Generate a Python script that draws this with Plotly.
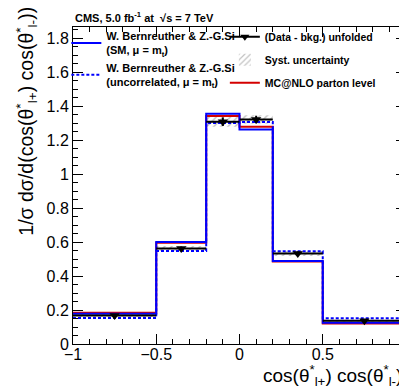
import plotly.graph_objects as go

# bin edges and centres of cos(theta*_l+) cos(theta*_l-)
edges = [-1.0, -0.5, -0.2, 0.0, 0.2, 0.5, 1.0]
centers = [-0.75, -0.35, -0.1, 0.1, 0.35, 0.75]
half_widths = [0.25, 0.15, 0.1, 0.1, 0.15, 0.25]

# normalised distributions
data_vals = [0.168, 0.562, 1.308, 1.321, 0.533, 0.137]
data_stat = [0.006, 0.012, 0.025, 0.022, 0.012, 0.006]
data_syst = [0.008, 0.015, 0.03, 0.025, 0.015, 0.006]
mcnlo = [0.184, 0.596, 1.341, 1.278, 0.486, 0.121]
wb_sm = [0.178, 0.600, 1.355, 1.262, 0.488, 0.125]
wb_uncorr = [0.153, 0.547, 1.300, 1.306, 0.545, 0.151]

FONT = "Liberation Sans, Arial, sans-serif"
BLUE = "#0000ff"
RED = "#d40000"


def steps(vals):
    return vals + [vals[-1]]


fig = go.Figure()

# systematic band (hatched)
fig.add_trace(go.Bar(
    x=centers,
    y=[2 * s for s in data_syst],
    base=[v - s for v, s in zip(data_vals, data_syst)],
    width=[2 * w for w in half_widths],
    marker=dict(color="rgba(0,0,0,0)", line_width=0,
                pattern=dict(shape="/", fgcolor="#888888", bgcolor="rgba(0,0,0,0)",
                             size=5, solidity=0.3)),
    name="Syst. uncertainty", legend="legend2", legendrank=2, legendgroup="syst",
))

fig.add_trace(go.Scatter(
    x=edges, y=steps(mcnlo), mode="lines", line=dict(color=RED, width=2, shape="hv"),
    name="MC@NLO parton level", legend="legend2", legendrank=3, legendgroup="mc",
))
fig.add_trace(go.Scatter(
    x=edges, y=steps(wb_sm), mode="lines", line=dict(color=BLUE, width=2, shape="hv"),
    name="W. Bernreuther & Z.-G.Si<br>(SM, μ = m<sub>t</sub>)", legend="legend", legendrank=1,
))
fig.add_trace(go.Scatter(
    x=edges, y=steps(wb_uncorr), mode="lines",
    line=dict(color=BLUE, width=2, shape="hv", dash="3px,2px"),
    name="W. Bernreuther & Z.-G.Si<br>(uncorrelated, μ = m<sub>t</sub>)", legend="legend", legendrank=2,
))

# unfolded data
fig.add_trace(go.Scatter(
    x=centers, y=data_vals, mode="markers",
    marker=dict(symbol="triangle-down", size=9, color="black"),
    error_x=dict(type="data", array=half_widths, color="black", thickness=2, width=0),
    error_y=dict(type="data", array=data_stat, color="black", thickness=2, width=0),
    showlegend=False,
))
fig.add_trace(go.Scatter(
    x=[None], y=[None], mode="lines+markers",
    line=dict(color="black", width=2),
    marker=dict(symbol="triangle-down", size=8, color="black"),
    name="(Data - bkg.) unfolded", legend="legend2", legendrank=1, legendgroup="data",
))

axis_common = dict(
    showline=True, linecolor="black", linewidth=1, mirror="allticks",
    ticks="inside", tickcolor="black", ticklen=10, tickwidth=1,
    showgrid=False, zeroline=False, automargin=False,
    tickfont=dict(family=FONT, size=16, color="black"),
)

fig.update_layout(
    width=407, height=387,
    margin=dict(l=65, r=9, t=19, b=51, autoexpand=False),
    paper_bgcolor="white", plot_bgcolor="white",
    barmode="overlay",
    font=dict(family=FONT, color="black"),
    xaxis=dict(range=[-1, 1], dtick=0.5, ticklabelstandoff=-4,
               minor=dict(dtick=0.1, ticks="inside", ticklen=5, tickcolor="black"),
               **axis_common),
    yaxis=dict(range=[0, 1.865], dtick=0.2,
               minor=dict(dtick=0.05, ticks="inside", ticklen=5, tickcolor="black"),
               **axis_common),
    legend=dict(x=-0.02, y=1.015, xanchor="left", yanchor="top",
                bgcolor="rgba(0,0,0,0)", itemwidth=30, tracegroupgap=2,
                font=dict(family=FONT, size=11, weight="bold")),
    legend2=dict(x=0.456, y=1.015, xanchor="left", yanchor="top",
                 bgcolor="rgba(0,0,0,0)", itemwidth=30, tracegroupgap=4,
                 font=dict(family=FONT, size=10.5, weight="bold")),
    annotations=[
        dict(text="CMS, 5.0 fb<sup>-1</sup> at  √s = 7 TeV", xref="paper", yref="paper",
             x=0.0, y=1.0, xanchor="left", yanchor="bottom", yshift=1, showarrow=False,
             font=dict(family=FONT, size=11, weight="bold")),
        dict(text="1/σ dσ/d(cos(θ<sup>*</sup><sub>l+</sub>) cos(θ<sup>*</sup><sub>l-</sub>))",
             xref="paper", yref="paper", x=-0.14, y=1.07, xanchor="center", yanchor="top",
             textangle=-90, showarrow=False, font=dict(family=FONT, size=19.5)),
        dict(text="cos(θ<sup>*</sup><sub>l+</sub>) cos(θ<sup>*</sup><sub>l-</sub>)",
             xref="paper", yref="paper", x=0.995, y=-0.1, xanchor="right", yanchor="middle",
             showarrow=False, font=dict(family=FONT, size=19)),
    ],
)

fig.write_html("out.html")
